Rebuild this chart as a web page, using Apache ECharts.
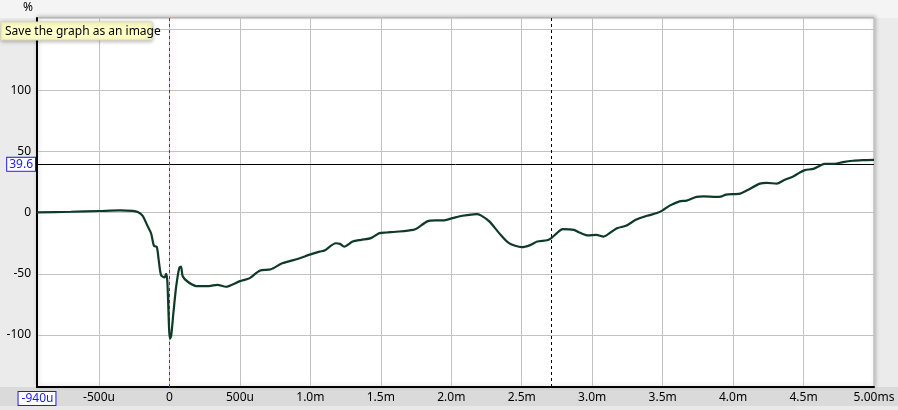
<!DOCTYPE html>
<html>
<head>
<meta charset="utf-8">
<script src="https://cdn.jsdelivr.net/npm/echarts@6/dist/echarts.min.js"></script>
<style>
  html, body { margin: 0; padding: 0; background: #ebebeb; }
  #chart { width: 898px; height: 410px; }
</style>
</head>
<body>
<div id="chart"></div>
<script>
// time in ms
const times = [
  -0.94, -0.70, -0.50, -0.35, -0.26, -0.225, -0.19, -0.155, -0.13, -0.11, -0.09, -0.076, -0.06, -0.035, -0.024, -0.015,
  0.003, 0.012, 0.028, 0.047, 0.07, 0.082, 0.094, 0.13, 0.19, 0.28, 0.34, 0.40, 0.50, 0.57, 0.64, 0.72, 0.80, 0.92,
  0.99, 1.065, 1.10, 1.18, 1.21, 1.24, 1.30, 1.36, 1.43, 1.49, 1.54, 1.63, 1.73, 1.76, 1.83, 1.89, 1.94, 2.01, 2.08,
  2.18, 2.21, 2.27, 2.34, 2.41, 2.50, 2.56, 2.61, 2.68, 2.71, 2.75, 2.79, 2.87, 2.91, 2.97, 3.03, 3.08, 3.14, 3.18,
  3.24, 3.31, 3.39, 3.46, 3.50, 3.55, 3.62, 3.67, 3.74, 3.79, 3.88, 3.92, 3.95, 4.05, 4.10, 4.19, 4.24, 4.31, 4.36,
  4.43, 4.47, 4.51, 4.57, 4.62, 4.65, 4.72, 4.78, 4.85, 4.92, 5.00
];
// step response in %
const values = [
  0.2, 0.8, 1.4, 1.9, 1.5, 0.5, -2.5, -11, -17, -27, -28, -39, -51, -53, -50, -56,
  -103, -101, -82, -61, -45, -44, -52, -56.5, -60, -60, -59, -60.6, -56, -53.5, -47.4, -46.3, -41.4, -37.5,
  -34.5, -31.8, -31, -25, -25.5, -27.7, -23.6, -22.2, -20.8, -16.7, -16.2, -15.4, -14, -12.6, -7.1, -6.3, -6.3, -4.4, -2.5,
  -1.1, -2.2, -7.1, -16.7, -24.9, -28.2, -26.5, -23.6, -22.5, -20.8, -16.7, -13.4, -14, -16.2, -18.6, -18.1, -19.5, -15.4, -12.6,
  -10.7, -5.8, -2.5, -0.3, 1.9, 5.8, 9.3, 9.9, 12.9, 13.4, 12.9, 13.4, 14.8, 15.6, 18.3, 23.8, 24.4, 23.8, 26.6,
  29.9, 32.6, 34.8, 35.9, 38.7, 40.0, 40.0, 41.4, 42.5, 43.0, 43.3
];
const xTickValues = [-0.94, -0.5, 0, 0.5, 1.0, 1.5, 2.0, 2.5, 3.0, 3.5, 4.0, 4.5, 5.0];
const xTickLabels = ['-940u', '-500u', '0', '500u', '1.0m', '1.5m', '2.0m', '2.5m', '3.0m', '3.5m', '4.0m', '4.5m', '5.00ms'];
const yTickValues = [-100, -50, 0, 50, 100, 150];
const yTickLabels = ['-100', '-50', '0', '50', '100', '150'];
const xRange = [-0.94, 5.0];
const yRange = [-142.6, 159.3];
const cursorLevel = 39.6;
const cursorLevelLabel = '39.6';
const redCursorX = 0;
const blackCursorX = 2.71;
const tooltipText = 'Save the graph as an image';

const FONT = '"Lucida Grande", "Noto Sans", "DejaVu Sans", sans-serif';
const chart = echarts.init(document.getElementById('chart'), null, { renderer: 'canvas' });

const seriesData = times.map((t, i) => [t, values[i]]);

chart.setOption({
  animation: false,
  backgroundColor: '#ebebeb',
  textStyle: { fontFamily: FONT },
  grid: {
    left: 37, right: 24, top: 18, bottom: 23,
    show: true, backgroundColor: '#ffffff', borderColor: '#a8a8a8', borderWidth: 1,
    shadowColor: 'rgba(0,0,0,0.25)', shadowBlur: 4, shadowOffsetX: 1, shadowOffsetY: -1
  },
  graphic: [
    { type: 'rect', silent: true, z: -10, shape: { x: 0, y: 0, width: 898, height: 18 }, style: { fill: '#f4f4f4' } },
    { type: 'rect', silent: true, z: -10, shape: { x: 0, y: 387, width: 898, height: 19 }, style: { fill: '#dadada' } },
    { type: 'rect', silent: true, z: -10, shape: { x: 0, y: 406, width: 797, height: 4 }, style: { fill: '#e8e8e8' } },
    { type: 'rect', silent: true, z: 1000, zlevel: 5, shape: { x: 1, y: 22, width: 151, height: 18 },
      style: { fill: '#ffffc8', stroke: '#deddb0', lineWidth: 1, shadowColor: 'rgba(0,0,0,0.3)', shadowBlur: 4, shadowOffsetY: 1 } },
    { type: 'text', silent: true, z: 1001, zlevel: 5,
      style: { x: 5, y: 31.5, text: tooltipText, fill: '#000', font: '12px ' + FONT, verticalAlign: 'middle' } }
  ],
  xAxis: {
    type: 'value', min: xRange[0], max: xRange[1],
    axisLine: { show: true, onZero: false, lineStyle: { color: '#000', width: 2 } },
    axisTick: { show: false, customValues: xTickValues },
    axisLabel: {
      customValues: xTickValues, margin: 5, color: '#000', fontSize: 12, fontFamily: FONT,
      formatter: (v) => {
        const i = xTickValues.findIndex(x => Math.abs(x - v) < 1e-9);
        const s = i >= 0 ? xTickLabels[i] : '';
        return i === 0 ? '{box|' + s + '}' : s;
      },
      rich: {
        box: { color: '#1a1aff', borderColor: '#1a1aff', borderWidth: 1, backgroundColor: '#ffffff', padding: [1, 2, 0, 3], fontSize: 12, fontFamily: FONT }
      }
    },
    splitLine: { show: true, lineStyle: { color: '#c2c2c2', width: 1 } }
  },
  yAxis: {
    type: 'value', min: yRange[0], max: yRange[1],
    name: '%', nameLocation: 'end', nameGap: 4,
    nameTextStyle: { color: '#000', fontSize: 12, fontFamily: FONT, align: 'right', padding: [0, 4, 0, 0] },
    axisLine: { show: true, onZero: false, lineStyle: { color: '#000', width: 2 } },
    axisTick: { show: false, customValues: yTickValues },
    axisLabel: {
      customValues: yTickValues, margin: 6, color: '#000', fontSize: 12, fontFamily: FONT,
      formatter: (v) => {
        const i = yTickValues.findIndex(x => Math.abs(x - v) < 1e-9);
        return i >= 0 ? yTickLabels[i] : '';
      }
    },
    splitLine: { show: true, lineStyle: { color: '#c2c2c2', width: 1 } }
  },
  series: [{
    type: 'line',
    data: seriesData,
    showSymbol: false,
    smooth: 0.25,
    lineStyle: { color: '#0f3a27', width: 2.2 },
    z: 5,
    markLine: {
      silent: true,
      symbol: ['none', 'none'],
      animation: false,
      data: [
        { yAxis: cursorLevel, lineStyle: { color: '#000', type: 'solid', width: 1 },
          label: { show: true, position: 'start', distance: 2, formatter: cursorLevelLabel, color: '#1a1aff',
                   borderColor: '#1a1aff', borderWidth: 1, backgroundColor: '#ffffff', padding: [1, 2, 0, 2], fontSize: 12, fontFamily: FONT } },
        { xAxis: redCursorX, lineStyle: { color: '#e00000', type: [3, 3], width: 1 }, label: { show: false } },
        { xAxis: blackCursorX, lineStyle: { color: '#000', type: [3, 3], width: 1 }, label: { show: false } }
      ]
    }
  }]
});
</script>
</body>
</html>
